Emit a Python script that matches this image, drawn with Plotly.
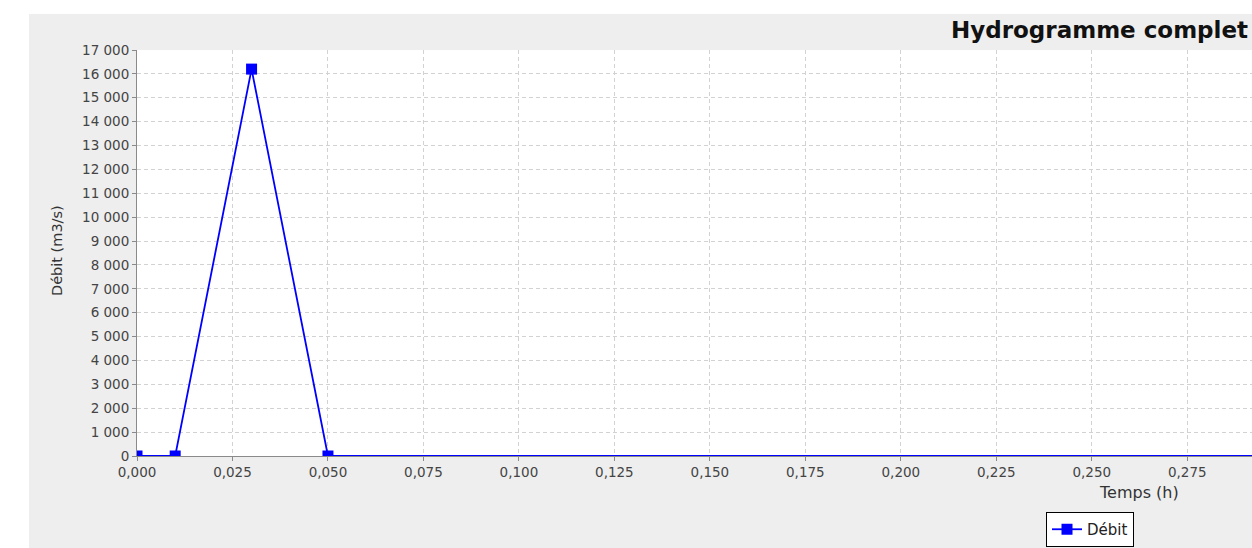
import plotly.graph_objects as go

# Data
temps_h = [0.0, 0.01, 0.03, 0.05, 0.30]
debit_m3s = [0, 0, 16200, 0, 0]
series_name = "Débit"

x_tick_vals = [0.0, 0.025, 0.05, 0.075, 0.1, 0.125, 0.15, 0.175, 0.2, 0.225, 0.25, 0.275]
x_tick_text = ["0,000", "0,025", "0,050", "0,075", "0,100", "0,125", "0,150",
               "0,175", "0,200", "0,225", "0,250", "0,275"]
y_tick_vals = list(range(0, 17001, 1000))
y_tick_text = ["0"] + [f"{v // 1000} 000" for v in y_tick_vals[1:]]

title_text = "Hydrogramme complet"
x_title = "Temps (h)"
y_title = "Débit (m3/s)"

W, H = 1252, 548
PLOT_L, PLOT_T, PLOT_B = 137, 50, 456  # reference pixels
L, T, R, B = PLOT_L, PLOT_T, 0, H - PLOT_B
PW = W - L - R
PH = H - T - B


def px(x):
    return (x - L) / PW


def py(y):
    return (PLOT_B - y) / PH


FONT = "DejaVu Sans"
GREY_BG = "#eeeeee"

fig = go.Figure()
fig.add_trace(go.Scatter(
    x=temps_h, y=debit_m3s, name=series_name, mode="lines+markers",
    line=dict(color="#0000ff", width=1.8),
    marker=dict(symbol="square", size=11, color="#0000ff"),
    cliponaxis=True,
))

axis_common = dict(
    showgrid=True, gridcolor="#d2d2d2", griddash="4px,3px", gridwidth=1,
    showline=True, linecolor="#8a8a8a", linewidth=1,
    ticks="outside", ticklen=4, tickcolor="#8a8a8a",
    tickfont=dict(family=FONT, size=13.5, color="#444444"),
    zeroline=False, fixedrange=True, layer="below traces",
)

fig.update_xaxes(range=[0, 0.29195], tickvals=x_tick_vals, ticktext=x_tick_text,
                 **axis_common)
fig.update_yaxes(range=[0, 17000], tickvals=y_tick_vals, ticktext=y_tick_text,
                 **axis_common)

fig.update_layout(
    width=W, height=H, autosize=False,
    margin=dict(l=L, r=R, t=T, b=B, pad=0),
    paper_bgcolor=GREY_BG, plot_bgcolor="white",
    font=dict(family=FONT, color="#333333"),
    showlegend=True,
    legend=dict(
        x=px(1090), y=py(512), xanchor="center", yanchor="top",
        bgcolor="white", bordercolor="black", borderwidth=1,
        font=dict(family=FONT, size=15, color="#222222"),
        itemwidth=30, tracegroupgap=0,
    ),
    shapes=[
        dict(type="rect", xref="paper", yref="paper", x0=px(0), x1=1.01,
             y0=py(14), y1=py(-2), fillcolor="white", line=dict(width=0), layer="below"),
        dict(type="rect", xref="paper", yref="paper", x0=px(0), x1=px(29),
             y0=py(H + 2), y1=py(-2), fillcolor="white", line=dict(width=0),
             layer="below"),
    ],
    annotations=[
        dict(text=f"<b>{title_text}</b>", xref="paper", yref="paper",
             x=px(1250), y=py(30), xanchor="right", yanchor="middle",
             showarrow=False, font=dict(family=FONT, size=23, color="#111111")),
        dict(text=x_title, xref="paper", yref="paper",
             x=px(1139), y=py(492), xanchor="center", yanchor="middle",
             showarrow=False, font=dict(family=FONT, size=16, color="#333333")),
        dict(text=y_title, xref="paper", yref="paper", textangle=-90,
             x=px(57), y=py(251), xanchor="center", yanchor="middle",
             showarrow=False, font=dict(family=FONT, size=14.5, color="#333333")),
    ],
)

fig.write_html(
    "out.html",
    config={"displayModeBar": False},
    post_script="document.body.style.margin='0';document.body.style.overflow='hidden';",
)
